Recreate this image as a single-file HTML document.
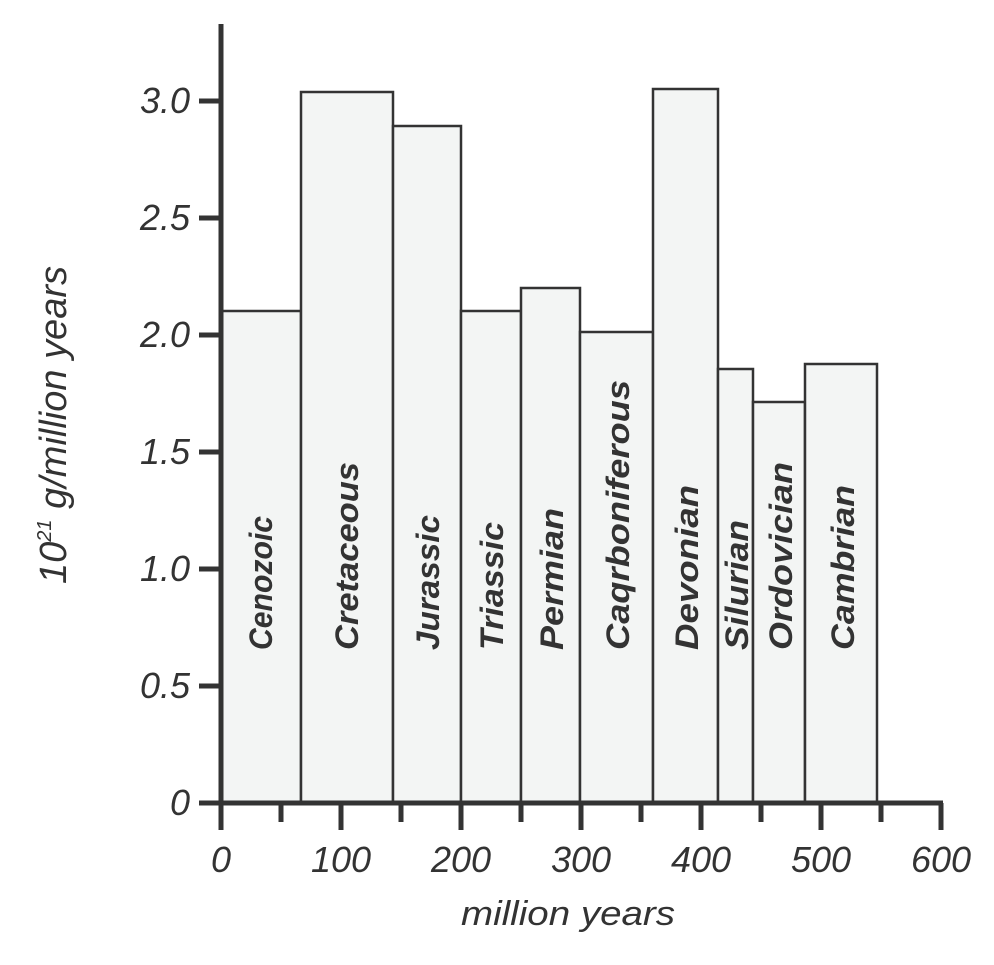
<!DOCTYPE html>
<html><head><meta charset="utf-8"><style>html,body{margin:0;padding:0;background:#fff}</style></head>
<body>
<svg width="994" height="960" xmlns="http://www.w3.org/2000/svg" font-family="Liberation Sans, sans-serif" fill="#333">
<g stroke="#333" stroke-width="2.5" fill="#f3f5f4">
<rect x="221" y="311" width="80" height="492"/>
<rect x="301" y="92" width="92" height="711"/>
<rect x="393" y="126" width="68" height="677"/>
<rect x="461" y="311" width="60" height="492"/>
<rect x="521" y="288" width="59" height="515"/>
<rect x="580" y="332" width="73" height="471"/>
<rect x="653" y="89" width="65" height="714"/>
<rect x="718" y="369" width="35" height="434"/>
<rect x="753" y="402" width="52" height="401"/>
<rect x="805" y="364" width="72" height="439"/>
</g>
<g stroke="#333" stroke-width="5">
<line x1="221" y1="24" x2="221" y2="830"/>
<line x1="219" y1="803" x2="943" y2="803"/>
<line x1="199" y1="803" x2="221" y2="803"/>
<line x1="199" y1="686" x2="221" y2="686"/>
<line x1="199" y1="569" x2="221" y2="569"/>
<line x1="199" y1="452" x2="221" y2="452"/>
<line x1="199" y1="335" x2="221" y2="335"/>
<line x1="199" y1="218" x2="221" y2="218"/>
<line x1="199" y1="101" x2="221" y2="101"/>
<line x1="341" y1="803" x2="341" y2="830"/>
<line x1="461" y1="803" x2="461" y2="830"/>
<line x1="581" y1="803" x2="581" y2="830"/>
<line x1="701" y1="803" x2="701" y2="830"/>
<line x1="821" y1="803" x2="821" y2="830"/>
<line x1="941" y1="803" x2="941" y2="830"/>
<line x1="281" y1="803" x2="281" y2="822"/>
<line x1="401" y1="803" x2="401" y2="822"/>
<line x1="521" y1="803" x2="521" y2="822"/>
<line x1="641" y1="803" x2="641" y2="822"/>
<line x1="761" y1="803" x2="761" y2="822"/>
<line x1="881" y1="803" x2="881" y2="822"/>
</g>
<g font-size="36" font-style="italic" text-anchor="end">
<text x="190" y="815">0</text>
<text x="190" y="698">0.5</text>
<text x="190" y="581">1.0</text>
<text x="190" y="464">1.5</text>
<text x="190" y="347">2.0</text>
<text x="190" y="230">2.5</text>
<text x="190" y="113">3.0</text>
</g>
<g font-size="36" font-style="italic" text-anchor="middle">
<text x="221" y="872">0</text>
<text x="341" y="872">100</text>
<text x="461" y="872">200</text>
<text x="581" y="872">300</text>
<text x="701" y="872">400</text>
<text x="821" y="872">500</text>
<text x="941" y="872">600</text>
<text x="568" y="925" font-size="34" textLength="214" lengthAdjust="spacingAndGlyphs">million years</text>
<text transform="translate(66,425) rotate(-90)" font-size="38">10<tspan font-size="20" dy="-15">21</tspan><tspan dy="15"> g/million years</tspan></text>
</g>
<g font-size="32" font-style="italic" font-weight="bold">
<text transform="translate(272,650) rotate(-90)" textLength="134" lengthAdjust="spacingAndGlyphs">Cenozoic</text>
<text transform="translate(358,650) rotate(-90)" textLength="188" lengthAdjust="spacingAndGlyphs">Cretaceous</text>
<text transform="translate(439,650) rotate(-90)" textLength="135" lengthAdjust="spacingAndGlyphs">Jurassic</text>
<text transform="translate(503,650) rotate(-90)" textLength="128" lengthAdjust="spacingAndGlyphs">Triassic</text>
<text transform="translate(563,650) rotate(-90)" textLength="142" lengthAdjust="spacingAndGlyphs">Permian</text>
<text transform="translate(629,650) rotate(-90)" textLength="270" lengthAdjust="spacingAndGlyphs">Caqrboniferous</text>
<text transform="translate(698,650) rotate(-90)" textLength="165" lengthAdjust="spacingAndGlyphs">Devonian</text>
<text transform="translate(748,650) rotate(-90)" textLength="130" lengthAdjust="spacingAndGlyphs">Silurian</text>
<text transform="translate(792,650) rotate(-90)" textLength="188" lengthAdjust="spacingAndGlyphs">Ordovician</text>
<text transform="translate(854,650) rotate(-90)" textLength="165" lengthAdjust="spacingAndGlyphs">Cambrian</text>
</g>
</svg>
</body></html>
